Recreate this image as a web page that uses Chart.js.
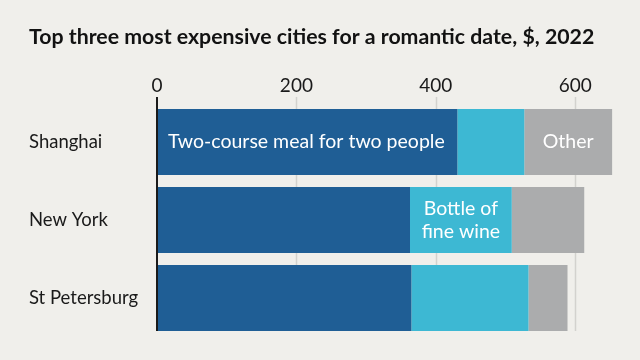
<!DOCTYPE html>
<html>
<head>
<meta charset="utf-8">
<script src="https://cdn.jsdelivr.net/npm/chart.js@4"></script>
<style>
  html, body { margin: 0; padding: 0; background: #f0efeb; }
  #wrap { width: 640px; height: 360px; position: relative; }
</style>
</head>
<body>
<div id="wrap"><canvas id="chart"></canvas></div>
<script>
const cities = ["Shanghai", "New York", "St Petersburg"];
const meal  = [431, 363, 365];
const wine  = [96, 146, 168];
const other = [126, 104, 56];
const xTicks = [0, 200, 400, 600];
const seriesNames = ["Two-course meal for two people", "Bottle of fine wine", "Other"];

const FONT = "Lato, 'Open Sans', sans-serif";

// gridlines reach a little above the plot and stop short of its bottom
const gridPlugin = {
  id: "grid",
  beforeDatasetsDraw(chart) {
    const { ctx, chartArea: a, scales: { x } } = chart;
    ctx.save();
    ctx.strokeStyle = "#d3d2ce";
    ctx.lineWidth = 1.5;
    x.ticks.forEach(t => {
      if (t.value === 0) return;
      const px = Math.round(x.getPixelForValue(t.value)) + 0.5;
      ctx.beginPath(); ctx.moveTo(px, a.top - 6); ctx.lineTo(px, a.bottom - 6); ctx.stroke();
    });
    ctx.restore();
  },
  afterDatasetsDraw(chart) {
    const { ctx, chartArea: a, scales: { x } } = chart;
    ctx.save();
    const px = x.getPixelForValue(0);
    ctx.strokeStyle = "#1a1a1a";
    ctx.lineWidth = 2;
    ctx.beginPath(); ctx.moveTo(px, a.top - 6); ctx.lineTo(px, a.bottom - 6); ctx.stroke();

    // segment labels
    ctx.fillStyle = "#ffffff";
    ctx.font = "19.5px " + FONT;
    ctx.textBaseline = "middle";
    const b0 = chart.getDatasetMeta(0).data[0];
    ctx.textAlign = "left";
    ctx.fillText(seriesNames[0], b0.base + 11, b0.y);
    const b2 = chart.getDatasetMeta(2).data[0];
    ctx.textAlign = "center";
    ctx.fillText(seriesNames[2], (b2.base + b2.x) / 2, b2.y);
    const b1 = chart.getDatasetMeta(1).data[1];
    const cx = (b1.base + b1.x) / 2;
    ctx.fillText("Bottle of", cx, b1.y - 11.5);
    ctx.fillText("fine wine", cx, b1.y + 11.5);
    ctx.restore();
  }
};

new Chart(document.getElementById("chart"), {
  type: "bar",
  data: {
    labels: cities,
    datasets: [
      { label: seriesNames[0], data: meal,  backgroundColor: "#1f5e95" },
      { label: seriesNames[1], data: wine,  backgroundColor: "#3db8d3" },
      { label: seriesNames[2], data: other, backgroundColor: "#abacad" },
    ],
  },
  options: {
    indexAxis: "y",
    responsive: true, maintainAspectRatio: false,
    animation: false,
    layout: { padding: { left: 29, right: 23, top: 24, bottom: 23 } },
    datasets: { bar: { barPercentage: 0.846, categoryPercentage: 1, borderWidth: 0 } },
    plugins: {
      legend: { display: false },
      tooltip: { enabled: false },
      title: {
        display: true, align: "start",
        text: "Top three most expensive cities for a romantic date, $, 2022",
        color: "#121212",
        font: { family: FONT, size: 21.3, weight: "bold", lineHeight: 1.2 },
        padding: { top: 0, bottom: 0 },
      },
    },
    scales: {
      x: {
        position: "top", stacked: true, min: 0, max: 660,
        afterBuildTicks: s => { s.ticks = xTicks.map(v => ({ value: v })); },
        afterFit: s => { s.height = 53.4; },
        grid: { display: false, drawTicks: false },
        border: { display: false },
        ticks: { color: "#1a1a1a", padding: 6, font: { family: FONT, size: 19 } },
      },
      y: {
        stacked: true,
        afterFit: s => { s.width = 128; },
        grid: { display: false, drawTicks: false },
        border: { display: false },
        ticks: { color: "#1a1a1a", crossAlign: "far", font: { family: FONT, size: 18.5 } },
      },
    },
  },
  plugins: [gridPlugin],
});
</script>
</body>
</html>
